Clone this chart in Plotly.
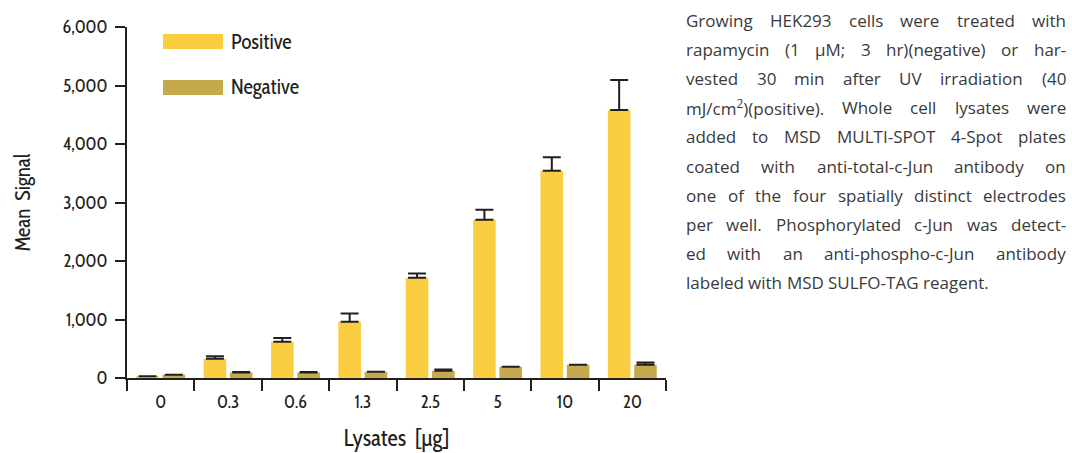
import plotly.graph_objects as go

categories = ["0", "0.3", "0.6", "1.3", "2.5", "5", "10", "20"]
positive = [30, 330, 620, 962, 1713, 2704, 3541, 4583]
positive_err = [None, 40, 65, 140, 75, 170, 233, 510]
negative = [56, 96, 96, 107, 125, 193, 227, 227]
negative_err = [None, 5, 5, None, 20, None, None, 40]
y_ticks = [0, 1000, 2000, 3000, 4000, 5000, 6000]

paragraph = [
    "Growing HEK293 cells were treated with",
    "rapamycin (1 µM; 3 hr)(negative) or har-",
    "vested 30 min after UV irradiation (40",
    "mJ/cm<sup>2</sup>)(positive).  Whole cell lysates were",
    "added to MSD MULTI-SPOT 4-Spot plates",
    "coated with anti-total-c-Jun antibody on",
    "one of the four spatially distinct electrodes",
    "per well.  Phosphorylated c-Jun was detect-",
    "ed with an anti-phospho-c-Jun antibody",
    "labeled with MSD SULFO-TAG reagent.",
]

POS_COLOR = "#FBCE41"
NEG_COLOR = "#C5AA4D"
INK = "#231F20"
NARROW = "Cabin Condensed, Liberation Sans Narrow, sans-serif"
BODY = "Open Sans"
BODY_SIZE = 17

W, H = 1072, 453
L, R, T, B = 127, 666, 27, 378


def px(x):
    return (x - L) / (R - L)


def py(y):
    return (B - y) / (B - T)


# approximate Open Sans advance widths (units of 1/2048 em) for justification
ADV = {" ": 532, "(": 606, ")": 606, ",": 502, "-": 659, ".": 545, "/": 752, ":": 545, ";": 545,
       "µ": 1268, "²": 700}
for ch in "0123456789":
    ADV[ch] = 1171
ADV.update(dict(zip("ABCDEFGHIJKLMNOPQRSTUVWXYZ",
                    [1296, 1327, 1292, 1493, 1139, 1057, 1491, 1511, 571, 547, 1257, 1063, 1849,
                     1544, 1595, 1233, 1595, 1266, 1124, 1133, 1491, 1219, 1896, 1182, 1154, 1151])))
ADV.update(dict(zip("abcdefghijklmnopqrstuvwxyz",
                    [1139, 1255, 975, 1255, 1149, 694, 1122, 1257, 518, 518, 1075, 518, 1905,
                     1257, 1237, 1255, 1255, 836, 977, 723, 1257, 1026, 1593, 1073, 1028, 977])))


def text_width(s):
    s = s.replace("<sup>2</sup>", "²")
    return sum(ADV.get(c, 1100) for c in s) / 2048 * BODY_SIZE


fig = go.Figure()
fig.add_trace(go.Bar(
    x=categories, y=positive, name="Positive", marker_color=POS_COLOR,
    marker_line_width=0,
    error_y=dict(type="data", array=positive_err, symmetric=False, arrayminus=[0] * 8,
                 color=INK, thickness=2, width=9),
))
fig.add_trace(go.Bar(
    x=categories, y=negative, name="Negative", marker_color=NEG_COLOR,
    marker_line_width=0,
    error_y=dict(type="data", array=negative_err, symmetric=False, arrayminus=[0] * 8,
                 color=INK, thickness=2, width=9),
))

shapes = []
annotations = []
# legend
for i, (label, col) in enumerate([("Positive", POS_COLOR), ("Negative", NEG_COLOR)]):
    y0 = 34 + i * 46
    shapes.append(dict(type="rect", xref="paper", yref="paper",
                       x0=px(163), x1=px(223), y0=py(y0 + 15), y1=py(y0),
                       fillcolor=col, line_width=0))
    annotations.append(dict(xref="paper", yref="paper", x=px(229), y=py(y0 + 7),
                            text=label, showarrow=False, xanchor="left", yanchor="middle",
                            font=dict(family=NARROW, size=21, color=INK)))

# justified paragraph
X0, X1 = 686, 1066
PAD = 2
for i, line in enumerate(paragraph):
    yy = py(20 + i * 29.2)
    words = line.split()
    last = i == len(paragraph) - 1
    widths = [text_width(w) for w in words]
    if last or len(words) == 1:
        gap = text_width(" ")
    else:
        gap = (X1 - X0 - sum(widths)) / (len(words) - 1)
    x = X0
    for j, (w, wd) in enumerate(zip(words, widths)):
        if not last and j == len(words) - 1:
            annotations.append(dict(xref="paper", yref="paper", x=px(X1 + PAD), y=yy, text=w,
                                    showarrow=False, xanchor="right", yanchor="middle",
                                    font=dict(family=BODY, size=BODY_SIZE, color="#3a3a3a")))
        else:
            annotations.append(dict(xref="paper", yref="paper", x=px(x - PAD), y=yy, text=w,
                                    showarrow=False, xanchor="left", yanchor="middle",
                                    font=dict(family=BODY, size=BODY_SIZE, color="#3a3a3a")))
        x += wd + gap

fig.update_layout(
    width=W, height=H,
    margin=dict(l=L, r=W - R, t=T, b=H - B, autoexpand=False),
    plot_bgcolor="white", paper_bgcolor="white",
    showlegend=False,
    barmode="group", bargap=0.22, bargroupgap=0.14,
    shapes=shapes, annotations=annotations,
    font=dict(family=NARROW, color=INK),
)
fig.update_xaxes(
    type="category", range=[-0.5, 7.5], automargin=False,
    showline=True, linecolor=INK, linewidth=2,
    ticks="outside", tickson="boundaries", ticklen=11, tickwidth=2, tickcolor=INK,
    ticklabelstandoff=6,
    tickfont=dict(family=NARROW, size=18, color=INK),
    title=dict(text="Lysates  [µg]", font=dict(family=NARROW, size=23, color=INK), standoff=18),
    showgrid=False, zeroline=False,
)
fig.update_yaxes(
    range=[0, 6000], tickvals=y_ticks, tickformat=",", automargin=False,
    showline=True, linecolor=INK, linewidth=2,
    ticks="outside", ticklen=10, tickwidth=2, tickcolor=INK,
    ticklabelstandoff=4,
    tickfont=dict(family=NARROW, size=18, color=INK),
    title=dict(text="Mean  Signal", font=dict(family=NARROW, size=21, color=INK), standoff=26),
    showgrid=False, zeroline=False,
)

fig.write_html("out.html", config={"displayModeBar": False},
               post_script="document.body.style.margin='0';document.body.style.padding='0';")
